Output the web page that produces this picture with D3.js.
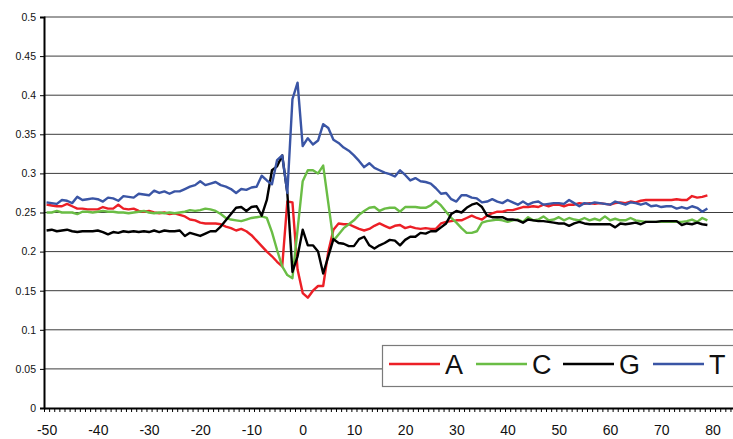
<!DOCTYPE html>
<html lang="en">
<head>
<meta charset="UTF-8">
<title></title>
<style>
  body { margin: 0; background: #fff; }
  svg { display: block; font-family: "Liberation Sans", Arial, sans-serif; }
</style>
</head>
<body>
<script src="https://d3js.org/d3.v7.min.js"></script>
<script>
    // positions -50 .. 79
    var positions = d3.range(-50, 80);

    var seriesA = [
        0.260,0.259,0.258,0.258,0.261,0.258,0.255,0.255,0.254,0.254,
        0.254,0.257,0.255,0.255,0.260,0.255,0.254,0.255,0.252,0.251,
        0.252,0.250,0.249,0.250,0.248,0.249,0.247,0.245,0.241,0.240,
        0.237,0.236,0.236,0.236,0.235,0.232,0.230,0.227,0.229,0.226,
        0.221,0.214,0.207,0.200,0.194,0.187,0.181,0.264,0.263,0.177,
        0.147,0.141,0.150,0.156,0.156,0.200,0.228,0.236,0.235,0.235,
        0.232,0.229,0.227,0.229,0.233,0.236,0.233,0.230,0.233,0.234,
        0.230,0.232,0.230,0.229,0.230,0.229,0.229,0.236,0.238,0.239,
        0.240,0.240,0.243,0.246,0.243,0.241,0.246,0.249,0.251,0.251,
        0.253,0.253,0.255,0.257,0.257,0.258,0.257,0.260,0.258,0.260,
        0.260,0.258,0.260,0.260,0.262,0.261,0.262,0.261,0.262,0.261,
        0.260,0.262,0.263,0.262,0.264,0.263,0.265,0.266,0.266,0.266,
        0.266,0.266,0.266,0.267,0.266,0.266,0.271,0.269,0.270,0.272
    ];

    var seriesC = [
        0.250,0.250,0.252,0.250,0.250,0.250,0.248,0.251,0.251,0.250,
        0.251,0.252,0.251,0.251,0.250,0.250,0.249,0.250,0.251,0.252,
        0.250,0.249,0.250,0.249,0.250,0.249,0.250,0.251,0.253,0.252,
        0.253,0.255,0.254,0.252,0.248,0.243,0.241,0.240,0.239,0.241,
        0.243,0.244,0.245,0.243,0.225,0.202,0.181,0.170,0.166,0.228,
        0.290,0.304,0.304,0.300,0.310,0.262,0.214,0.222,0.230,0.235,
        0.240,0.247,0.252,0.256,0.257,0.252,0.255,0.256,0.256,0.251,
        0.257,0.257,0.257,0.256,0.256,0.259,0.265,0.259,0.251,0.243,
        0.237,0.230,0.224,0.224,0.226,0.237,0.239,0.240,0.241,0.240,
        0.238,0.240,0.241,0.238,0.244,0.240,0.241,0.245,0.240,0.241,
        0.244,0.240,0.243,0.241,0.240,0.243,0.240,0.242,0.240,0.245,
        0.240,0.242,0.240,0.240,0.243,0.240,0.239,0.238,0.238,0.238,
        0.238,0.238,0.238,0.238,0.238,0.239,0.241,0.238,0.243,0.240
    ];

    var seriesG = [
        0.227,0.228,0.226,0.227,0.228,0.226,0.225,0.226,0.226,0.226,
        0.227,0.225,0.222,0.225,0.224,0.226,0.225,0.226,0.225,0.226,
        0.225,0.227,0.225,0.227,0.226,0.226,0.227,0.220,0.224,0.222,
        0.220,0.223,0.226,0.226,0.232,0.240,0.248,0.256,0.257,0.252,
        0.257,0.258,0.246,0.266,0.304,0.309,0.323,0.275,0.174,0.194,
        0.228,0.208,0.208,0.200,0.172,0.194,0.216,0.211,0.210,0.207,
        0.207,0.216,0.219,0.208,0.204,0.208,0.211,0.215,0.214,0.208,
        0.215,0.219,0.219,0.224,0.223,0.226,0.226,0.231,0.236,0.248,
        0.252,0.250,0.256,0.260,0.262,0.257,0.246,0.244,0.244,0.244,
        0.241,0.241,0.240,0.237,0.241,0.240,0.239,0.239,0.238,0.237,
        0.236,0.236,0.233,0.236,0.238,0.236,0.235,0.235,0.235,0.235,
        0.235,0.231,0.236,0.235,0.236,0.237,0.235,0.238,0.238,0.238,
        0.239,0.239,0.239,0.239,0.234,0.236,0.235,0.237,0.235,0.234
    ];

    var seriesT = [
        0.263,0.262,0.261,0.266,0.265,0.262,0.270,0.266,0.267,0.268,
        0.267,0.264,0.269,0.268,0.265,0.271,0.270,0.269,0.274,0.273,
        0.272,0.278,0.275,0.277,0.274,0.277,0.277,0.280,0.283,0.285,
        0.290,0.285,0.287,0.289,0.285,0.283,0.280,0.275,0.280,0.279,
        0.282,0.283,0.297,0.291,0.286,0.317,0.323,0.275,0.395,0.416,
        0.335,0.345,0.337,0.342,0.363,0.358,0.343,0.339,0.333,0.329,
        0.323,0.316,0.308,0.313,0.307,0.304,0.301,0.299,0.296,0.304,
        0.298,0.291,0.294,0.290,0.289,0.287,0.281,0.274,0.275,0.267,
        0.264,0.272,0.272,0.269,0.268,0.263,0.264,0.267,0.264,0.262,
        0.266,0.263,0.260,0.264,0.260,0.263,0.264,0.260,0.261,0.262,
        0.262,0.261,0.266,0.262,0.258,0.262,0.261,0.263,0.262,0.261,
        0.260,0.264,0.262,0.260,0.263,0.262,0.260,0.262,0.258,0.259,
        0.257,0.258,0.258,0.255,0.257,0.255,0.258,0.256,0.251,0.255
    ];

    var seriesNames = ['A', 'C', 'G', 'T'];
    var seriesColors = ['#ec1f26', '#6abd45', '#000000', '#3a55a5'];
    var yTicks = d3.range(0, 0.5001, 0.05);
    var xLabels = d3.range(-50, 81, 10);

    var width = 733, height = 439,
        plotLeft = 44, plotRight = 733, plotTop = 17, plotBottom = 408;

    var svg = d3.select('body').append('svg')
        .attr('width', width)
        .attr('height', height);

    var x = d3.scaleLinear().domain([-50.5, 84]).range([plotLeft, plotRight]);
    var y = d3.scaleLinear().domain([0, 0.5]).range([plotBottom, plotTop]);

    // gridlines
    svg.append('g')
       .selectAll('line')
       .data(yTicks.slice(1))
       .enter().append('line')
       .attr('x1', plotLeft).attr('x2', plotRight)
       .attr('y1', function(d) { return y(d); })
       .attr('y2', function(d) { return y(d); })
       .attr('stroke', '#3c3c3c')
       .attr('stroke-width', 1);

    // y axis
    var yAxis = d3.axisLeft(y)
        .tickValues(yTicks)
        .tickSize(4)
        .tickPadding(4)
        .tickFormat(function(d) { return String(+d.toFixed(2)); });
    var gy = svg.append('g')
       .attr('class', 'y-axis')
       .attr('transform', 'translate(' + plotLeft + ',0)')
       .call(yAxis);
    gy.selectAll('text').attr('font-size', 10.5).attr('fill', '#111')
      .style('font-family', '"Liberation Sans", Arial, sans-serif');
    gy.select('.domain').attr('stroke-width', 2);

    // x axis minor ticks
    var xTickAxis = d3.axisBottom(x)
        .tickValues(d3.range(-50.5, 84, 1))
        .tickSize(4)
        .tickSizeOuter(0)
        .tickFormat('');
    var gx = svg.append('g')
       .attr('class', 'x-axis')
       .attr('transform', 'translate(0,' + plotBottom + ')')
       .call(xTickAxis);
    gx.select('.domain').attr('stroke-width', 2);

    // x labels
    var xLabelAxis = d3.axisBottom(x)
        .tickValues(xLabels)
        .tickSize(0)
        .tickPadding(17.5)
        .tickFormat(function(d) { return String(d); });
    var gxl = svg.append('g')
       .attr('transform', 'translate(0,' + plotBottom + ')')
       .call(xLabelAxis);
    gxl.select('.domain').remove();
    gxl.selectAll('text').attr('font-size', 14).attr('fill', '#111')
       .style('font-family', '"Liberation Sans", Arial, sans-serif');

    // series lines
    var allSeries = [seriesA, seriesC, seriesG, seriesT];
    var line = d3.line()
        .x(function(d, i) { return x(positions[i]); })
        .y(function(d) { return y(d); });

    svg.append('g')
       .selectAll('path')
       .data(allSeries)
       .enter().append('path')
       .attr('d', line)
       .attr('fill', 'none')
       .attr('stroke', function(d, i) { return seriesColors[i]; })
       .attr('stroke-width', 2.4)
       .attr('stroke-linejoin', 'round');

    // legend
    var legend = svg.append('g').attr('transform', 'translate(382,345)');
    legend.append('rect')
        .attr('x', 0.5).attr('y', 0.5)
        .attr('width', 380).attr('height', 41)
        .attr('fill', '#fff')
        .attr('stroke', '#7a7a7a')
        .attr('stroke-width', 1.2);
    var legendX = [7, 94, 181, 271];
    var item = legend.selectAll('g.item')
        .data(seriesNames)
        .enter().append('g')
        .attr('class', 'item')
        .attr('transform', function(d, i) { return 'translate(' + legendX[i] + ',19)'; });
    item.append('line')
        .attr('x1', 0).attr('x2', 51)
        .attr('y1', 0).attr('y2', 0)
        .attr('stroke', function(d, i) { return seriesColors[i]; })
        .attr('stroke-width', 2.4);
    item.append('text')
        .attr('x', 56)
        .attr('y', 10)
        .attr('font-size', 27)
        .attr('fill', '#111')
        .text(function(d) { return d; });
</script>
</body>
</html>
